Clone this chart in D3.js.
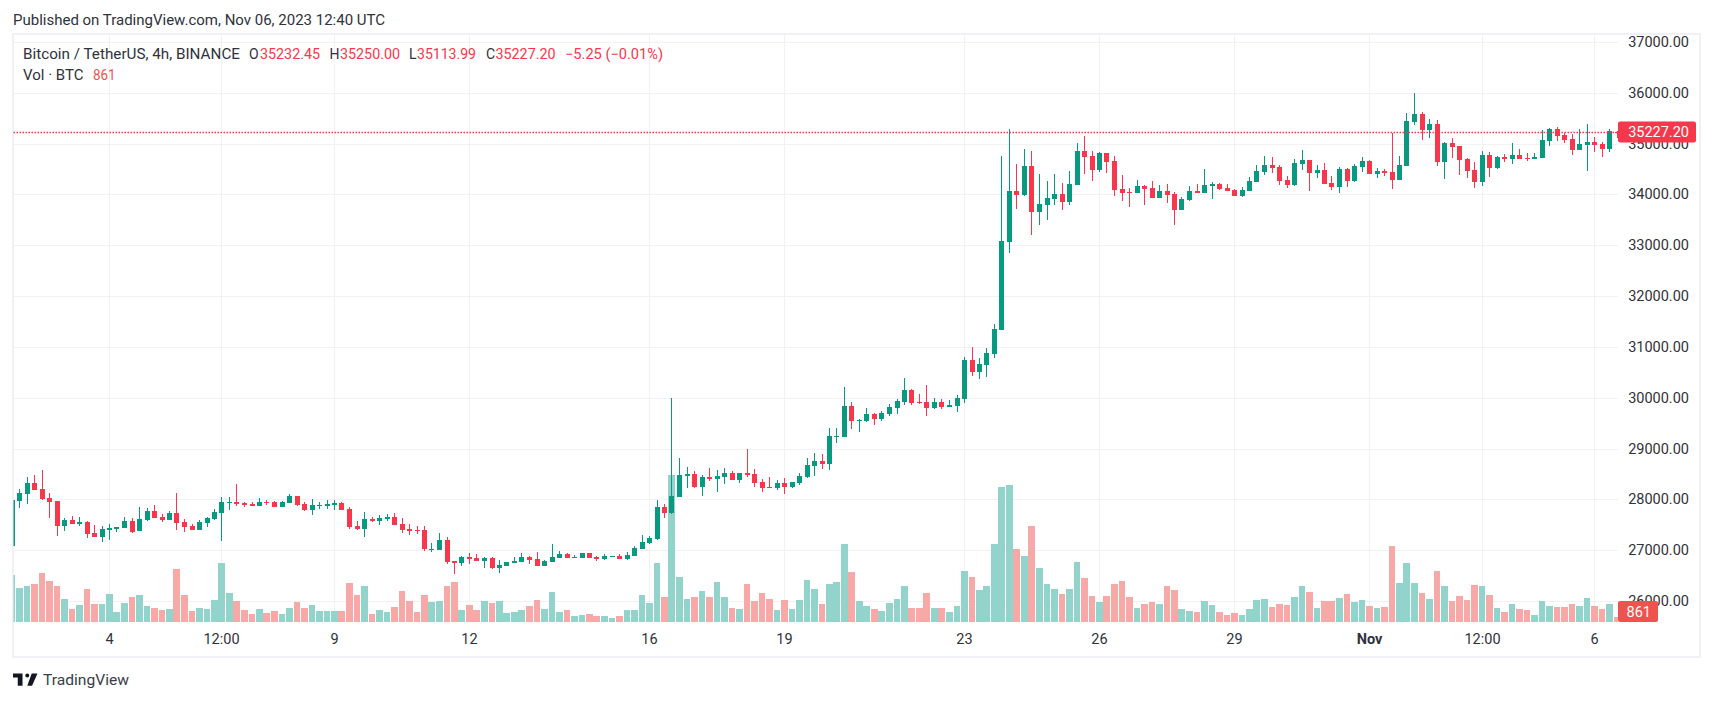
<!DOCTYPE html>
<html><head><meta charset="utf-8"><style>
html,body{margin:0;padding:0;background:#fff;overflow:hidden}
svg{display:block}
text{font-family:Roboto,sans-serif}
</style>
<script src="https://cdn.jsdelivr.net/npm/d3@7/dist/d3.min.js"></script></head><body><svg id="c" width="1713" height="701"></svg>
<script>
const open=[27084,27974,28105,28314,28196,28026,27967,27477,27594,27516,27555,27339,27261,27398,27418,27437,27575,27379,27594,27771,27653,27594,27732,27555,27477,27398,27536,27614,27732,27928,27948,27928,27908,27869,27954,27954,27849,27928,28065,27908,27791,27869,27869,27889,27928,27810,27477,27418,27614,27575,27614,27653,27516,27418,27398,27398,
27006,27006,27202,26790,26751,26868,26849,26790,26849,26652,26692,26751,26770,26868,26829,26692,26770,26849,26927,26849,26849,26947,26868,26829,26868,26888,26829,26888,27025,27143,27221,27849,27732,28045,28457,28497,28242,28438,28399,28438,28516,28379,28516,28497,28340,28242,28222,28320,28242,28320,28438,28654,28752,28693,29223,29223,29831,29537,
29537,29674,29576,29674,29792,29910,30145,29910,29910,29792,29910,29811,29831,29968,30734,30498,30636,
30867,31338,33064,34065,33986,34555,33653,33790,33908,34006,33849,34182,34850,34751,34477,34810,34653,34104,34045,34026,34163,34124,33927,34065,34006,33692,33888,34065,34026,34163,34202,34124,34084,33967,34065,34241,
34438,34575,34536,34281,34183,34595,34673,34418,34477,34222,34144,34497,34261,34536,34654,34399,34458,34438,34281,34556,35419,35576,35262,35380,34634,35007,34948,34693,34477,34242,34772,34516,34732,34693,34772,34713,34693,34713,35046,35282,35164,35086,34870,34968,35027,34987,34889,35232.45];
const high=[27987,28196,28432,28477,28575,28118,27967,27634,27673,27647,27575,27496,27477,27516,27464,27647,27627,27849,27823,27889,27712,27771,28124,27614,27516,27594,27653,27810,28046,28046,28301,27954,27948,28026,27987,27967,27967,28105,28065,27948,28006,27948,27987,27987,27948,27849,27575,27751,27653,27692,27712,27732,27634,27516,27477,27477,
27136,27333,27254,26790,26888,26947,26927,26868,26868,26809,26770,26868,26947,26888,26966,26809,27123,26986,26947,26907,26947,26947,26888,26927,26888,26927,26966,27084,27300,27280,27987,27908,30001,28811,28634,28556,28477,28614,28575,28614,28556,28516,28987,28595,28399,28438,28379,28418,28340,28516,28811,28909,28889,29399,29399,30204,29909,29576,
29792,29694,29733,29870,29968,30380,30165,30067,30243,29988,29968,29949,30047,30792,30989,30773,30969,
31455,34751,35281,34595,34889,34850,34398,34261,34398,34222,34457,35007,35144,34850,34830,34810,34751,34379,34124,34281,34183,34261,34183,34202,34045,33947,34163,34202,34496,34241,34222,34202,34104,34143,34340,34575,
34752,34732,34575,34359,34693,34870,34673,34575,34615,34359,34536,34516,34595,34732,34673,34516,34497,35203,34752,35596,35988,35615,35478,35458,35027,35105,34948,34713,34634,34850,34830,34752,34791,35007,34889,34811,34811,35262,35301,35321,35203,35184,35282,35380,35125,35027,35282,35250];
const low=[27084,27830,27908,28183,27987,27634,27280,27385,27516,27477,27241,27261,27163,27202,27359,27437,27339,27379,27575,27634,27555,27594,27398,27359,27398,27398,27457,27594,27182,27791,27869,27849,27869,27869,27889,27849,27849,27928,27869,27771,27692,27810,27810,27791,27791,27418,27398,27261,27555,27496,27575,27496,27339,27300,27320,26980,
26973,27006,26737,26541,26679,26731,26790,26652,26633,26554,26692,26751,26770,26731,26692,26692,26770,26849,26849,26849,26849,26849,26790,26809,26868,26829,26809,26888,27025,27123,27202,27633,27712,28045,28222,28222,28065,28359,28144,28300,28379,28320,28438,28242,28144,28222,28183,28104,28222,28281,28418,28457,28595,28575,29105,29223,29380,29321,
29517,29458,29537,29635,29674,29851,29851,29870,29635,29772,29772,29811,29713,29890,30420,30361,30400,
30788,31338,32848,33712,33967,33201,33398,33496,33790,33692,33790,34182,34398,34261,34438,34418,33967,33869,33751,34026,33790,33927,33927,33829,33398,33692,33869,34026,34026,33908,34084,34065,33967,33947,34065,34241,
34379,34418,34183,34124,34163,34477,34065,34320,34203,34085,34026,34144,34242,34438,34399,34320,34359,34104,34281,34556,35360,35066,35105,34556,34301,34713,34379,34320,34124,34163,34340,34497,34634,34595,34693,34654,34693,34713,34948,35046,35007,34772,34870,34458,34830,34732,34830,35113.99];
const close=[27987,28118,28314,28183,28000,27948,27477,27594,27516,27555,27320,27261,27418,27437,27451,27575,27365,27614,27771,27634,27594,27732,27536,27457,27398,27555,27634,27751,27948,27948,27908,27889,27869,27948,27935,27849,27948,28065,27889,27791,27889,27889,27908,27928,27791,27457,27418,27614,27575,27634,27653,27496,27398,27379,27379,27020,
27025,27202,26777,26751,26868,26829,26790,26849,26652,26711,26770,26790,26868,26809,26692,26790,26868,26927,26849,26868,26947,26849,26829,26888,26888,26829,26907,27045,27162,27241,27849,27732,28065,28477,28497,28242,28438,28399,28457,28516,28379,28516,28477,28320,28222,28222,28320,28242,28340,28457,28673,28752,28693,29242,29242,29831,29537,29556,
29674,29576,29694,29811,29929,30145,29890,29890,29792,29910,29811,29851,29988,30734,30498,30655,30871,
31357,33084,34065,33986,34555,33653,33810,33927,34006,33849,34202,34850,34732,34477,34810,34634,34084,34026,34026,34163,34104,33927,34065,33986,33692,33908,34065,34026,34183,34202,34104,34065,33967,34084,34261,34457,
34575,34516,34261,34183,34615,34673,34418,34477,34203,34144,34497,34261,34556,34654,34399,34458,34418,34281,34575,35439,35576,35262,35380,34634,35007,34928,34673,34458,34242,34772,34516,34732,34693,34772,34693,34693,34732,35066,35282,35144,35066,34870,34987,35027,34968,34889,35242,35227.20];
const volume=[8093,5855,6199,6544,8438,7060,6199,3961,2239,2927,5683,3100,3100,4822,1722,3272,4305,4649,2755,2411,2066,2239,9127,4649,1894,2411,2239,3788,10160,4994,3616,2066,1378,2239,1550,1894,1378,2411,3444,2411,2927,1894,1894,1894,1894,6716,4649,6199,1378,2066,1722,2583,5338,3616,1722,4649,
3444,3616,6199,6888,2066,2927,2066,3616,3272,3616,1550,1722,2066,2755,3788,2239,5166,1722,2066,1033,1205,1378,1033,1033,689,1033,2066,2066,4649,3272,10160,4305,25313,7749,3961,4305,5338,4305,6888,4305,2411,2239,6544,3616,4994,3961,2066,3788,2239,3788,7232,5683,3100,6544,6888,13432,8610,3616,
2755,2239,1894,3272,3961,6199,2411,2411,4994,2411,2411,1722,2755,8782,7749,5510,6199,13432,23247,23591,12571,11365,16531,9299,6544,5683,4822,5683,10332,7577,4477,3444,4477,6544,7060,4305,2411,3100,3444,3100,6199,5510,2239,1894,1722,3616,2927,1722,1205,1550,1205,2239,3788,
3961,2583,3100,2927,4305,6199,5166,2411,3616,3616,4133,4822,3444,3788,2755,2411,2583,13087,6716,10160,6716,4994,3961,8782,6199,3616,4477,3788,6371,6199,4649,2411,1722,3100,2239,2066,1205,3616,2755,2583,2583,3100,2755,4133,2755,2239,3100,861];
const priceTicks=[26000,27000,28000,29000,30000,31000,32000,33000,34000,35000,36000,37000];
const timeTickBars=[13,28,43,61,85,103,127,145,163,181,196,211];
const timeTickLabels=["4","12:00","9","12","16","19","23","26","29","Nov","12:00","6"];
const lastPrice=35227.20, lastVolume=861;

const UP="#089981",DOWN="#F7374C",UPV="#92D3CC",DOWNV="#F7A9A7",FRAME="#F0F0F6",GRID="#F2F2F4",INK="#2F323C";
const svg=d3.select("#c");
const x=d3.scaleLinear().domain([0,214]).range([12,1617]);
const y=d3.scaleLinear().domain([26000,37000]).range([601,41.9]);
const yv=d3.scaleLinear().domain([0,27000]).range([622,465]);
const L=13.5,R=1618,T=35,B=622;
svg.append("defs").append("clipPath").attr("id","plot").append("rect").attr("x",L).attr("y",T).attr("width",R-L).attr("height",B-T+1);

// frame
svg.append("rect").attr("x",13).attr("y",34).attr("width",1687).attr("height",623).attr("fill","none").attr("stroke",FRAME).attr("stroke-width",2);

// grid
svg.append("g").selectAll("line").data(priceTicks).join("line")
 .attr("x1",L).attr("x2",R).attr("y1",d=>Math.round(y(d))+.5).attr("y2",d=>Math.round(y(d))+.5).attr("stroke",GRID);
svg.append("g").selectAll("line").data(timeTickBars).join("line")
 .attr("x1",d=>Math.floor(x(d))+.5).attr("x2",d=>Math.floor(x(d))+.5).attr("y1",T).attr("y2",B).attr("stroke",GRID);

const plot=svg.append("g").attr("clip-path","url(#plot)");
const idx=d3.range(open.length);
const isUp=i=>close[i]>=open[i];

// volume
plot.append("g").selectAll("rect").data(idx).join("rect")
 .attr("x",i=>Math.floor(x(i))-3)
 .attr("width",i=>Math.ceil(x(i))+3-(Math.floor(x(i))-3))
 .attr("y",i=>Math.round(yv(volume[i])))
 .attr("height",i=>622-Math.round(yv(volume[i])))
 .attr("fill",i=>isUp(i)?UPV:DOWNV);

// last price line
svg.append("line").attr("x1",L).attr("x2",R).attr("y1",Math.round(y(lastPrice))+.5).attr("y2",Math.round(y(lastPrice))+.5)
 .attr("stroke",DOWN).attr("stroke-width",1.3).attr("stroke-dasharray","1.5 1.5");

// candles
const cg=plot.append("g");
cg.selectAll("rect.w").data(idx).join("rect").attr("class","w")
 .attr("x",i=>Math.floor(x(i))).attr("width",1)
 .attr("y",i=>Math.round(y(high[i])))
 .attr("height",i=>Math.max(1,Math.round(y(low[i]))-Math.round(y(high[i]))))
 .attr("fill",i=>isUp(i)?UP:DOWN);
cg.selectAll("rect.b").data(idx).join("rect").attr("class","b")
 .attr("x",i=>Math.floor(x(i))-2).attr("width",5)
 .attr("y",i=>Math.round(y(Math.max(open[i],close[i]))))
 .attr("height",i=>Math.max(1,Math.round(y(Math.min(open[i],close[i])))-Math.round(y(Math.max(open[i],close[i])))))
 .attr("fill",i=>isUp(i)?UP:DOWN);

// price axis
svg.append("g").selectAll("text").data(priceTicks).join("text")
 .attr("x",1689).attr("y",d=>y(d)+5).attr("text-anchor","end").attr("font-size",14.5).attr("fill",INK)
 .text(d=>d3.format(".2f")(d));

// time axis
svg.append("g").selectAll("text").data(timeTickBars).join("text")
 .attr("x",d=>Math.floor(x(d))+.5).attr("y",644).attr("text-anchor","middle").attr("font-size",14.5)
 .attr("font-weight",(d,i)=>timeTickLabels[i]==="Nov"?700:400).attr("fill",INK)
 .text((d,i)=>timeTickLabels[i]);

// value labels
const lab=(py,w,h,col,txt,tx)=>{
 svg.append("rect").attr("x",1618).attr("y",py).attr("width",w).attr("height",h).attr("rx",2).attr("fill",col);
 svg.append("text").attr("x",tx).attr("y",py+h/2+5).attr("text-anchor","end").attr("font-size",14.5).attr("fill","#fff").text(txt);
};
lab(Math.round(y(lastPrice))-10.5,78,21,DOWN,d3.format(".2f")(lastPrice),1689);
lab(601,40,21,"#EF5350",String(lastVolume),1651);

// header text
const t=(tx,ty,s,col,len)=>{const e=svg.append("text").attr("x",tx).attr("y",ty).attr("font-size",14).attr("fill",col).text(s);
 if(len)e.attr("textLength",len).attr("lengthAdjust","spacingAndGlyphs");};
t(13,25,"Published on TradingView.com, Nov 06, 2023 12:40 UTC",INK,372);
t(23,59,"Bitcoin / TetherUS, 4h, BINANCE",INK,217);
t(249,59,"O",INK);t(260,59,d3.format(".2f")(open[214]),DOWN,60);
t(329.5,59,"H",INK);t(340,59,d3.format(".2f")(high[214]),DOWN,60);
t(409,59,"L",INK);t(417,59,d3.format(".2f")(low[214]),DOWN,59);
t(486,59,"C",INK);t(495.5,59,d3.format(".2f")(close[214]),DOWN,60);
t(565,59,"\u22125.25 (\u22120.01%)",DOWN,98);
t(23,80,"Vol \u00b7 BTC",INK,60.5);
t(93,80,String(lastVolume),"#EF5350",22.5);

// logo + wordmark
svg.append("path").attr("transform","translate(13,673.5) scale(0.68)")
 .attr("d","M14 0H0v6h7v12h7V0Zm14 18h-7L27.5 0H36l-8 18ZM21 6a3 3 0 1 0 0-6 3 3 0 0 0 0 6Z").attr("fill","#131722");
svg.append("text").attr("x",43).attr("y",684.5).attr("font-size",15.5).attr("fill","#3a3d47").text("TradingView")
 .attr("textLength",86).attr("lengthAdjust","spacingAndGlyphs");
</script></body></html>
